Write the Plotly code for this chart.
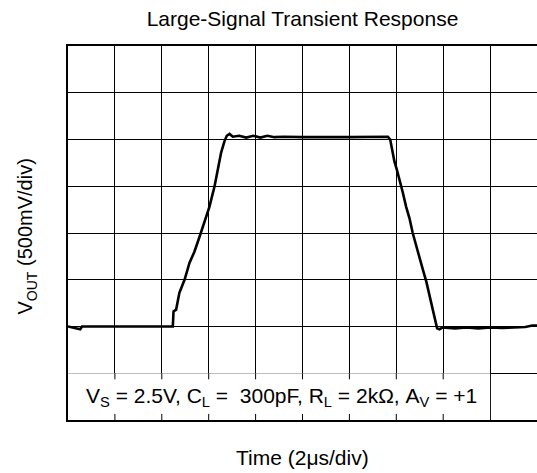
import plotly.graph_objects as go

# ---- data ----
time_us = [0.00, 0.52, 0.60, 4.47, 4.50, 4.61, 4.75, 4.97, 5.18, 5.39, 5.61, 5.82,
           6.03, 6.25, 6.39, 6.53, 6.67, 6.77, 6.89, 7.03, 7.30, 7.60, 7.90, 8.20,
           8.50, 8.80, 9.20, 10.0, 12.0, 13.3, 13.64, 13.74, 13.85, 13.92, 14.02,
           14.14, 14.28, 14.42, 14.56, 14.70, 14.85, 14.99, 15.13, 15.28, 15.42,
           15.56, 15.67, 15.74, 15.84, 15.98, 16.5, 17.0, 17.5, 18.0, 18.5, 19.0,
           19.5, 19.8, 20.0]
vout_v = [1.00, 0.97, 1.00, 1.00, 1.16, 1.18, 1.36, 1.50, 1.68, 1.80, 1.96, 2.11,
          2.28, 2.50, 2.70, 2.86, 2.98, 3.04, 3.06, 3.03, 3.04, 3.02, 3.04, 3.02,
          3.04, 3.025, 3.03, 3.025, 3.025, 3.03, 3.03, 3.00, 2.855, 2.765, 2.68,
          2.57, 2.43, 2.28, 2.16, 2.00, 1.855, 1.75, 1.61, 1.48, 1.32,
          1.18, 1.05, 0.98, 0.97, 0.99, 0.98, 0.99, 0.98, 0.99, 0.985, 0.99,
          0.995, 1.01, 1.01]

x_div = 2.0      # us per division
y_div = 0.5      # V per division
n_xdiv = 10
n_ydiv = 8

title_text = "Large-Signal Transient Response"
xlabel = "Time (2\u03bcs/div)"
ylabel = "V<sub>OUT</sub> (500mV/div)"
cond_text = ("V<sub>S</sub> = 2.5V, C<sub>L</sub> = \u00a0300pF, "
             "R<sub>L</sub> = 2k\u03a9, A<sub>V</sub> = +1")

FONT = "Liberation Sans, Arial, sans-serif"
HSIZE = 21

fig = go.Figure()
fig.add_trace(go.Scatter(x=time_us, y=vout_v, mode="lines",
                         line=dict(color="black", width=2.6),
                         hoverinfo="skip", showlegend=False))

xmax = x_div * n_xdiv
ymax = y_div * n_ydiv

# white box holding the test conditions (covers the lowest grid row)
box_right = x_div * 9
fig.add_shape(type="rect", xref="x", yref="y", x0=0, x1=box_right, y0=0, y1=y_div,
              fillcolor="white", line=dict(width=0), layer="between")
# short tick stubs inside the box
stub = 0.065
for i in range(1, 9):
    xv = i * x_div
    fig.add_shape(type="line", xref="x", yref="y", x0=xv, x1=xv, y0=y_div - stub, y1=y_div,
                  line=dict(color="black", width=1), layer="between")
    fig.add_shape(type="line", xref="x", yref="y", x0=xv, x1=xv, y0=0, y1=stub,
                  line=dict(color="black", width=1), layer="between")

fig.add_annotation(text=cond_text, xref="x", yref="y", x=box_right / 2 + 0.1, y=y_div / 2,
                   showarrow=False, font=dict(family=FONT, size=HSIZE, color="black"),
                   xanchor="center", yanchor="middle")

fig.add_annotation(text=xlabel, xref="paper", yref="paper", x=0.5, y=-0.099,
                   showarrow=False, font=dict(family=FONT, size=HSIZE, color="black"),
                   xanchor="center", yanchor="middle")
fig.add_annotation(text=ylabel, xref="paper", yref="paper", x=-0.0864, y=0.492,
                   showarrow=False, textangle=-90,
                   font=dict(family=FONT, size=20, color="black"),
                   xanchor="center", yanchor="middle")

fig.update_layout(
    width=537, height=473, autosize=False,
    margin=dict(l=68, r=0, t=46, b=53),
    paper_bgcolor="white", plot_bgcolor="white",
    title=dict(text=title_text, x=0.5, xref="paper", xanchor="center",
               y=1 - 19 / 473, yref="container", yanchor="middle",
               font=dict(family=FONT, size=HSIZE, color="black")),
    xaxis=dict(range=[0, xmax], dtick=x_div, tick0=0, showticklabels=False, ticks="",
               showgrid=True, gridcolor="black", gridwidth=1, zeroline=False,
               showline=True, linecolor="black", linewidth=2, mirror=True),
    yaxis=dict(range=[0, ymax], dtick=y_div, tick0=0, showticklabels=False, ticks="",
               showgrid=True, gridcolor="black", gridwidth=1, zeroline=False,
               showline=True, linecolor="black", linewidth=2, mirror=False),
)

fig.write_html("out.html", config={"displayModeBar": False},
               post_script="document.body.style.margin='0';document.body.style.padding='0';")
